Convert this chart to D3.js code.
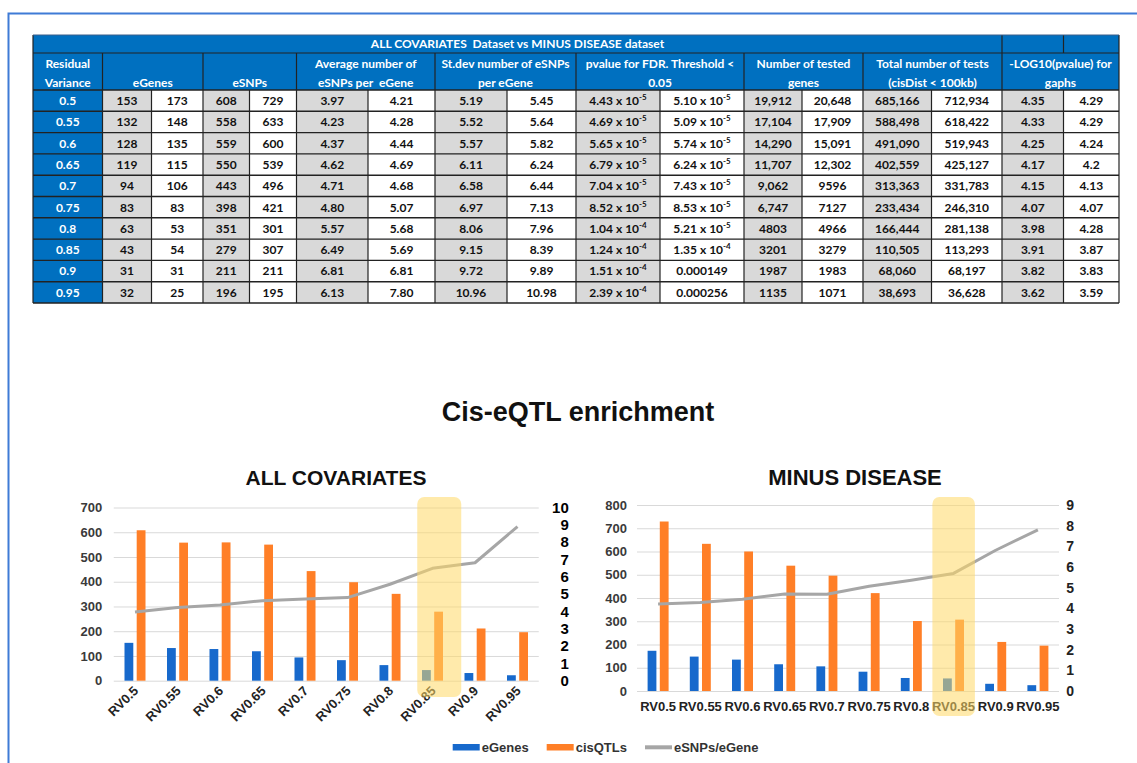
<!DOCTYPE html>
<html>
<head>
<meta charset="utf-8">
<script src="https://cdn.jsdelivr.net/npm/d3@7"></script>
<style>
  body { margin: 0; background: #fff; }
  svg { display: block; }
  .tbl text { font-family: 'Liberation Sans Narrow', 'Lato', sans-serif; font-weight: bold; font-size: 12px; white-space: pre; }
  .chart text { font-family: 'Liberation Sans', Arial, sans-serif; font-weight: bold; }
</style>
</head>
<body>
<div id="chart"></div>
<script>
// ---- table values ----
const rvLabels = ["0.5", "0.55", "0.6", "0.65", "0.7", "0.75", "0.8", "0.85", "0.9", "0.95"]
const eGenesAllT = ["153", "132", "128", "119", "94", "83", "63", "43", "31", "32"]
const eGenesMinusT = ["173", "148", "135", "115", "106", "83", "53", "54", "31", "25"]
const eSNPsAllT = ["608", "558", "559", "550", "443", "398", "351", "279", "211", "196"]
const eSNPsMinusT = ["729", "633", "600", "539", "496", "421", "301", "307", "211", "195"]
const avgAll = ["3.97", "4.23", "4.37", "4.62", "4.71", "4.80", "5.57", "6.49", "6.81", "6.13"]
const avgMinus = ["4.21", "4.28", "4.44", "4.69", "4.68", "5.07", "5.68", "5.69", "6.81", "7.80"]
const sdAll = ["5.19", "5.52", "5.57", "6.11", "6.58", "6.97", "8.06", "9.15", "9.72", "10.96"]
const sdMinus = ["5.45", "5.64", "5.82", "6.24", "6.44", "7.13", "7.96", "8.39", "9.89", "10.98"]
const pAll = ["4.43 x 10^-5", "4.69 x 10^-5", "5.65 x 10^-5", "6.79 x 10^-5", "7.04 x 10^-5", "8.52 x 10^-5", "1.04 x 10^-4", "1.24 x 10^-4", "1.51 x 10^-4", "2.39 x 10^-4"]
const pMinus = ["5.10 x 10^-5", "5.09 x 10^-5", "5.74 x 10^-5", "6.24 x 10^-5", "7.43 x 10^-5", "8.53 x 10^-5", "5.21 x 10^-5", "1.35 x 10^-4", "0.000149", "0.000256"]
const testedAll = ["19,912", "17,104", "14,290", "11,707", "9,062", "6,747", "4803", "3201", "1987", "1135"]
const testedMinus = ["20,648", "17,909", "15,091", "12,302", "9596", "7127", "4966", "3279", "1983", "1071"]
const totalAll = ["685,166", "588,498", "491,090", "402,559", "313,363", "233,434", "166,444", "110,505", "68,060", "38,693"]
const totalMinus = ["712,934", "618,422", "519,943", "425,127", "331,783", "246,310", "281,138", "113,293", "68,197", "36,628"]
const logAll = ["4.35", "4.33", "4.25", "4.17", "4.15", "4.07", "3.98", "3.91", "3.82", "3.62"]
const logMinus = ["4.29", "4.29", "4.24", "4.2", "4.13", "4.07", "4.28", "3.87", "3.83", "3.59"]

const tableTitle = "ALL COVARIATES  Dataset vs MINUS DISEASE dataset"
const headers = [
    ["Residual", "Variance"], ["eGenes"], ["eSNPs"],
    ["Average number of", "eSNPs per  eGene"], ["St.dev number of eSNPs", "per eGene"],
    ["pvalue for FDR. Threshold <", "0.05"], ["Number of tested", "genes"],
    ["Total number of tests", "(cisDist < 100kb)"], ["-LOG10(pvalue) for", "gaphs"]
]

// ---- chart values ----
const categories = ["RV0.5", "RV0.55", "RV0.6", "RV0.65", "RV0.7", "RV0.75", "RV0.8", "RV0.85", "RV0.9", "RV0.95"]
const allEGenes = [153, 132, 128, 119, 94, 83, 63, 43, 31, 22]
const allCisQTLs = [608, 558, 559, 550, 443, 398, 351, 279, 211, 196]
const allRatio = [3.97, 4.23, 4.37, 4.62, 4.71, 4.80, 5.57, 6.49, 6.81, 8.9]
const minusEGenes = [173, 148, 135, 115, 106, 83, 56, 54, 31, 25]
const minusCisQTLs = [729, 633, 600, 539, 496, 421, 301, 307, 211, 195]
const minusRatio = [4.21, 4.28, 4.44, 4.69, 4.68, 5.07, 5.36, 5.69, 6.81, 7.80]
const legendItems = ["eGenes", "cisQTLs", "eSNPs/eGene"]

const BLUE = '#1769CC', ORANGE = '#FF7F27', GREY = '#A6A6A6'

let svg = d3.select('#chart')
    .append('svg')
    .attr('width', 1137)
    .attr('height', 763)

// blue frame round the picture
svg.append('path')
    .attr('d', 'M1137,13.5 H8.5 V763')
    .style('fill', 'none')
    .style('stroke', '#3F7BD6')
    .style('stroke-width', 2)

// ================= TABLE =================
let tbl = svg.append('g').attr('class', 'tbl')
const colX = [33, 102.5, 151.5, 203, 249.5, 296.5, 368, 435, 507, 576, 660, 744, 802, 863, 931.5, 1002, 1063.5, 1119]
const titleTop = 35, headTop = 53, rowTop = 90, rowH = 21.3
const tableBottom = rowTop + rowH * rvLabels.length
const pairs = [
    [eGenesAllT, eGenesMinusT], [eSNPsAllT, eSNPsMinusT], [avgAll, avgMinus], [sdAll, sdMinus],
    [pAll, pMinus], [testedAll, testedMinus], [totalAll, totalMinus], [logAll, logMinus]
]

// blue title + header band
tbl.append('rect')
    .attr('x', colX[0]).attr('y', titleTop)
    .attr('width', colX[17] - colX[0]).attr('height', rowTop - titleTop)
    .style('fill', '#0070C0')
tbl.append('rect')
    .attr('x', colX[0]).attr('y', rowTop)
    .attr('width', colX[1] - colX[0]).attr('height', tableBottom - rowTop)
    .style('fill', '#0070C0')

// data cells
pairs.forEach((pair, p) => {
    pair.forEach((col, k) => {
        let ci = 1 + p * 2 + k
        tbl.selectAll(null)
            .data(col)
            .enter()
            .append('rect')
            .attr('x', colX[ci]).attr('y', (d, i) => rowTop + i * rowH)
            .attr('width', colX[ci + 1] - colX[ci]).attr('height', rowH)
            .style('fill', k == 0 ? '#D9D9D9' : '#fff')
        let t = tbl.selectAll(null)
            .data(col)
            .enter()
            .append('text')
            .attr('x', (colX[ci] + colX[ci + 1]) / 2)
            .attr('y', (d, i) => rowTop + i * rowH + 15)
            .attr('text-anchor', 'middle')
            .style('fill', '#111')
        t.each(function (d) {
            let el = d3.select(this)
            if (d.indexOf('^') > 0) {
                let parts = d.split('^')
                el.append('tspan').text(parts[0])
                el.append('tspan').attr('dy', -5).style('font-size', '8px').text(parts[1])
            } else {
                el.text(d)
            }
        })
    })
})

// row labels
tbl.selectAll(null)
    .data(rvLabels)
    .enter()
    .append('text')
    .attr('x', (colX[0] + colX[1]) / 2)
    .attr('y', (d, i) => rowTop + i * rowH + 15)
    .attr('text-anchor', 'middle')
    .style('fill', '#fff')
    .text(d => d)

// title
tbl.append('text')
    .attr('x', (colX[0] + colX[15]) / 2)
    .attr('y', titleTop + 13)
    .attr('text-anchor', 'middle')
    .style('fill', '#fff')
    .text(tableTitle)

// header texts
headers.forEach((lines, h) => {
    let a = h == 0 ? colX[0] : colX[1 + (h - 1) * 2]
    let b = h == 0 ? colX[1] : colX[1 + (h - 1) * 2 + 2]
    lines.forEach((s, li) => {
        let yy = lines.length == 1 ? 87 : 68 + li * 19
        tbl.append('text')
            .attr('x', (a + b) / 2).attr('y', yy)
            .attr('text-anchor', 'middle')
            .style('fill', '#fff')
            .text(s)
    })
})

// grid lines of the table
const lineCol = '#222'
d3.range(rvLabels.length + 1).forEach(i => {
    tbl.append('line')
        .attr('x1', colX[0]).attr('x2', colX[17])
        .attr('y1', rowTop + i * rowH).attr('y2', rowTop + i * rowH)
        .style('stroke', lineCol).style('stroke-width', 1.4)
})
tbl.append('line')
    .attr('x1', colX[0]).attr('x2', colX[17])
    .attr('y1', headTop).attr('y2', headTop)
    .style('stroke', lineCol).style('stroke-width', 1.2)
colX.forEach((cx, i) => {
    let groupEdge = i <= 1 || i % 2 == 1
    let segs = [[groupEdge ? headTop : rowTop, tableBottom]]
    if (i == 0 || i == 15 || i == 17) segs = [[titleTop, tableBottom]]
    if (i == 16) segs = [[titleTop, headTop], [rowTop, tableBottom]]
    segs.forEach(s => {
        tbl.append('line')
            .attr('x1', cx).attr('x2', cx)
            .attr('y1', s[0]).attr('y2', s[1])
            .style('stroke', lineCol).style('stroke-width', 1.2)
    })
})
tbl.append('line')
    .attr('x1', colX[0]).attr('x2', colX[17])
    .attr('y1', titleTop).attr('y2', titleTop)
    .style('stroke', '#3a5f8a').style('stroke-width', 1)

// ================= CHARTS =================
let charts = svg.append('g').attr('class', 'chart')

charts.append('text')
    .attr('x', 578).attr('y', 421)
    .attr('text-anchor', 'middle')
    .style('font-size', '27px')
    .style('fill', '#111')
    .text('Cis-eQTL enrichment')

function drawChart(cfg) {
    let g = charts.append('g')
    let x = d3.scaleBand().domain(categories).range(cfg.xRange)
    let y = d3.scaleLinear().domain([0, cfg.yMax]).range(cfg.yRange)
    let y2 = d3.scaleLinear().domain([0, cfg.y2Max]).range(cfg.yRange)
    let w = cfg.xRange[1] - cfg.xRange[0]

    g.append('text')
        .attr('x', cfg.titleX).attr('y', 485)
        .attr('text-anchor', 'middle')
        .style('font-size', cfg.titleSize)
        .style('fill', '#111')
        .text(cfg.title)

    let left = g.append('g')
        .attr('transform', `translate(${cfg.xRange[0]},0)`)
        .call(d3.axisLeft(y).tickValues(d3.range(0, cfg.yMax + 1, 100)).tickSize(-w).tickPadding(cfg.leftPad))
    left.select('.domain').remove()
    left.selectAll('line').style('stroke', '#D9D9D9')
    left.selectAll('text')
        .style('font-size', '13px')
        .style('fill', '#3a3a3a')
        .style('font-family', "'Liberation Sans', Arial, sans-serif")

    let right = g.append('g')
        .attr('transform', `translate(${cfg.xRange[1]},0)`)
        .call(d3.axisRight(y2).ticks(cfg.y2Max).tickSize(0).tickPadding(cfg.rightPad))
    right.select('.domain').remove()
    right.selectAll('text')
        .attr('text-anchor', 'end')
        .style('font-size', cfg.rightSize)
        .style('fill', cfg.rightColor)
        .style('font-family', "'Liberation Sans', Arial, sans-serif")

    let bw = 8.8, gap = 1.7
    g.selectAll('rect.eg')
        .data(cfg.eGenes)
        .enter()
        .append('rect')
        .attr('class', 'eg')
        .attr('x', (d, i) => x(categories[i]) + x.bandwidth() / 2 - gap - bw)
        .attr('y', d => y(d))
        .attr('width', bw)
        .attr('height', d => y(0) - y(d))
        .style('fill', BLUE)

    g.selectAll('rect.cq')
        .data(cfg.cis)
        .enter()
        .append('rect')
        .attr('class', 'cq')
        .attr('x', (d, i) => x(categories[i]) + x.bandwidth() / 2 + gap)
        .attr('y', d => y(d))
        .attr('width', bw)
        .attr('height', d => y(0) - y(d))
        .style('fill', ORANGE)

    let line = d3.line()
        .x((d, i) => x(categories[i]) + x.bandwidth() / 2)
        .y(d => y2(d))
    g.append('path')
        .datum(cfg.ratio)
        .attr('d', line)
        .style('fill', 'none')
        .style('stroke', GREY)
        .style('stroke-width', 3)
        .style('stroke-linejoin', 'round')

    let xl = g.selectAll('text.xl')
        .data(categories)
        .enter()
        .append('text')
        .attr('class', 'xl')
        .style('font-size', '13px')
        .style('fill', '#222')
        .text(d => d)
    if (cfg.rotate) {
        xl.attr('text-anchor', 'end')
            .attr('transform', d => `translate(${x(d) + x.bandwidth() / 2 + 4},${y(0) + 11}) rotate(-45)`)
    } else {
        xl.attr('text-anchor', 'middle')
            .attr('x', d => x(d) + x.bandwidth() / 2)
            .attr('y', y(0) + 20)
    }

    // highlight on RV0.85
    g.append('rect')
        .attr('x', x('RV0.85') + cfg.boxShift)
        .attr('y', 497)
        .attr('width', cfg.boxW)
        .attr('height', cfg.boxBottom - 497)
        .attr('rx', 7)
        .style('fill', '#FFD966')
        .style('opacity', 0.55)
}

drawChart({
    title: 'ALL COVARIATES', titleX: 336, titleSize: '21px',
    xRange: [113.75, 538.75], yRange: [680.7, 507.5], yMax: 700, y2Max: 10,
    leftPad: 11.5, rightPad: 30, rightSize: '15px', rightColor: '#000',
    eGenes: allEGenes, cis: allCisQTLs, ratio: allRatio,
    rotate: true, boxShift: 6, boxW: 44, boxBottom: 697
})

drawChart({
    title: 'MINUS DISEASE', titleX: 855, titleSize: '22px',
    xRange: [637, 1059], yRange: [691, 505], yMax: 800, y2Max: 9,
    leftPad: 10, rightPad: 15, rightSize: '14px', rightColor: '#222',
    eGenes: minusEGenes, cis: minusCisQTLs, ratio: minusRatio,
    rotate: false, boxShift: 0, boxW: 42.5, boxBottom: 716
})

// legend
let lg = charts.append('g')
let lx = 452.7
legendItems.forEach((name, i) => {
    if (i < 2) {
        lg.append('rect')
            .attr('x', lx).attr('y', 744)
            .attr('width', 27).attr('height', 6.5)
            .style('fill', i == 0 ? BLUE : ORANGE)
    } else {
        lg.append('line')
            .attr('x1', lx).attr('x2', lx + 27)
            .attr('y1', 747.3).attr('y2', 747.3)
            .style('stroke', GREY).style('stroke-width', 4)
    }
    let t = lg.append('text')
        .attr('x', lx + 29).attr('y', 752)
        .style('font-size', '13px')
        .style('fill', '#333')
        .text(name)
    lx += 29 + t.node().getComputedTextLength() + 18
})
</script>
</body>
</html>
